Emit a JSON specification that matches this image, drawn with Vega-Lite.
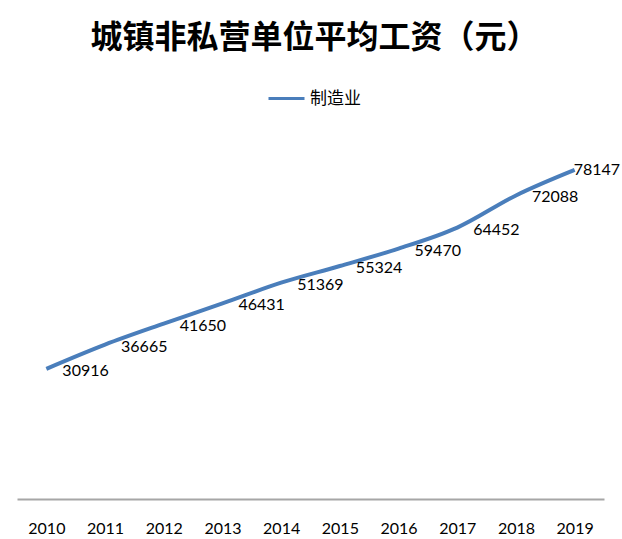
{
  "$schema": "https://vega.github.io/schema/vega-lite/v6.json",
  "autosize": "none",
  "width": 587,
  "height": 379,
  "padding": {"left": 17, "top": 120, "right": 18, "bottom": 40},
  "background": "white",
  "title": {
    "text": "城镇非私营单位平均工资（元）",
    "font": "Noto Sans CJK SC",
    "fontSize": 32,
    "fontWeight": "bold",
    "color": "#000000",
    "anchor": "middle",
    "frame": "group",
    "dx": 4,
    "offset": 24
  },
  "data": {
    "values": [
      {"year": "2010", "value": 30916, "series": "制造业"},
      {"year": "2011", "value": 36665, "series": "制造业"},
      {"year": "2012", "value": 41650, "series": "制造业"},
      {"year": "2013", "value": 46431, "series": "制造业"},
      {"year": "2014", "value": 51369, "series": "制造业"},
      {"year": "2015", "value": 55324, "series": "制造业"},
      {"year": "2016", "value": 59470, "series": "制造业"},
      {"year": "2017", "value": 64452, "series": "制造业"},
      {"year": "2018", "value": 72088, "series": "制造业"},
      {"year": "2019", "value": 78147, "series": "制造业"}
    ]
  },
  "encoding": {
    "x": {
      "field": "year",
      "type": "ordinal",
      "scale": {"type": "point", "padding": 0.5},
      "axis": {
        "title": null,
        "labelAngle": 0,
        "ticks": false,
        "tickSize": 0,
        "domainColor": "#A6A6A6",
        "domainWidth": 2,
        "labelFont": "Lato",
        "labelFontSize": 16,
        "labelColor": "#000000",
        "labelPadding": 21,
        "labelBaseline": "top",
        "grid": false
      }
    },
    "y": {
      "field": "value",
      "type": "quantitative",
      "scale": {"domain": [0, 90000], "nice": false, "zero": true},
      "axis": null
    }
  },
  "layer": [
    {
      "mark": {"type": "line", "strokeWidth": 4, "interpolate": "monotone"},
      "encoding": {
        "color": {
          "field": "series",
          "type": "nominal",
          "scale": {"range": ["#4A7EBB"]},
          "legend": {
            "orient": "none",
            "legendX": 250,
            "legendY": -41,
            "title": null,
            "symbolType": "stroke",
            "symbolSize": 1296,
            "symbolStrokeWidth": 3,
            "labelFont": "Noto Sans CJK SC",
            "labelFontSize": 17,
            "labelColor": "#000000",
            "labelOffset": 4,
            "padding": 0
          }
        }
      }
    },
    {
      "transform": [{"filter": "datum.year != '2019'"}],
      "mark": {
        "type": "text",
        "align": "left",
        "baseline": "middle",
        "dx": 16,
        "dy": 2,
        "font": "Lato",
        "fontSize": 16,
        "color": "#000000"
      },
      "encoding": {
        "text": {"field": "value", "type": "quantitative", "format": "d"}
      }
    },
    {
      "transform": [{"filter": "datum.year == '2019'"}],
      "mark": {
        "type": "text",
        "align": "left",
        "baseline": "middle",
        "dx": -1,
        "dy": 0,
        "font": "Lato",
        "fontSize": 16,
        "color": "#000000"
      },
      "encoding": {
        "text": {"field": "value", "type": "quantitative", "format": "d"}
      }
    }
  ],
  "config": {"view": {"stroke": null}}
}
